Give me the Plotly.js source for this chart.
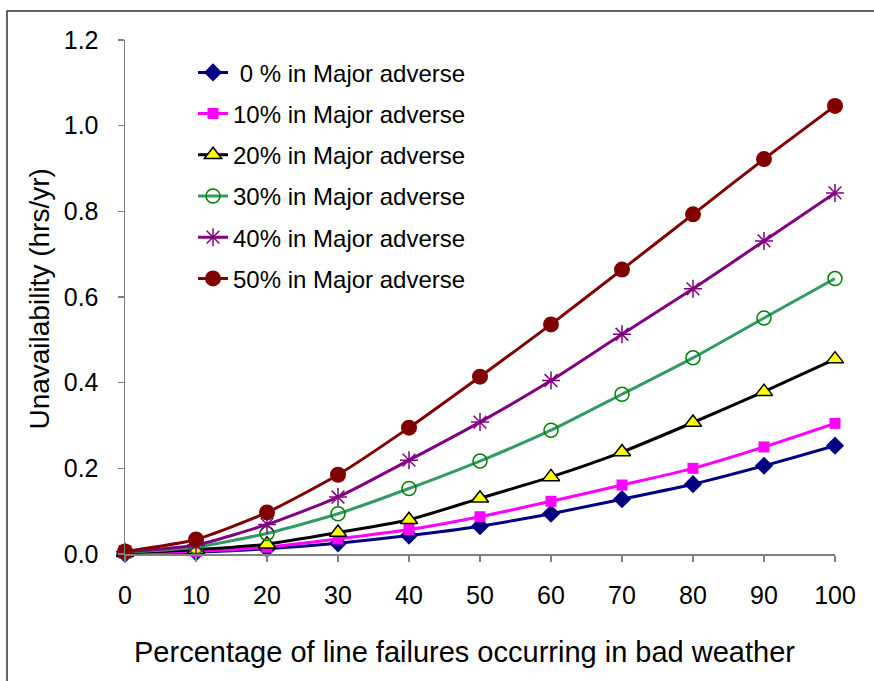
<!DOCTYPE html>
<html>
<head>
<meta charset="utf-8">
<script src="https://cdn.plot.ly/plotly-3.0.1.min.js"></script>
<style>html,body{margin:0;padding:0;background:#fff;}#chart{width:874px;height:681px;}</style>
</head>
<body>
<div id="chart"></div>
<script>
// Data
const xPct = [0, 10, 20, 30, 40, 50, 60, 70, 80, 90, 100];
const xTickLabels = ["0", "10", "20", "30", "40", "50", "60", "70", "80", "90", "100"];
const yTickVals = [0, 0.2, 0.4, 0.6, 0.8, 1.0, 1.2];
const yTickLabels = ["0.0", "0.2", "0.4", "0.6", "0.8", "1.0", "1.2"];
const seriesNames = ["\u00a00 % in Major adverse", "10% in Major adverse", "20% in Major adverse",
                     "30% in Major adverse", "40% in Major adverse", "50% in Major adverse"];
const s0  = [0.000, 0.004, 0.012, 0.025, 0.043, 0.065, 0.094, 0.128, 0.163, 0.206, 0.253];
const s10 = [0.002, 0.006, 0.016, 0.035, 0.057, 0.087, 0.123, 0.161, 0.200, 0.250, 0.305];
const s20 = [0.003, 0.010, 0.023, 0.050, 0.080, 0.130, 0.180, 0.238, 0.307, 0.379, 0.455];
const s30 = [0.004, 0.016, 0.048, 0.094, 0.153, 0.217, 0.289, 0.373, 0.458, 0.551, 0.643];
const s40 = [0.005, 0.021, 0.069, 0.133, 0.219, 0.308, 0.405, 0.513, 0.619, 0.731, 0.843];
const s50 = [0.006, 0.034, 0.097, 0.185, 0.295, 0.414, 0.536, 0.664, 0.793, 0.922, 1.046];

const styles = [
  {line: '#000080', symbol: 'diamond', mcolor: '#000080', mline: '#000080', size: 14, lw: 0},
  {line: '#FF00FF', symbol: 'square', mcolor: '#FF00FF', mline: '#FF00FF', size: 11, lw: 0},
  {line: '#000000', symbol: 'triangle-up', mcolor: '#FFFF00', mline: '#000000', size: 15, lw: 1.5},
  {line: '#339966', symbol: 'circle-open', mcolor: '#008000', mline: '#008000', size: 14, lw: 1.5},
  {line: '#800080', symbol: 'asterisk-open', mcolor: '#800080', mline: '#800080', size: 15, lw: 1.5},
  {line: '#800000', symbol: 'circle', mcolor: '#800000', mline: '#800000', size: 16, lw: 0}
];
const allSeries = [s0, s10, s20, s30, s40, s50];

const traces = allSeries.map((ys, i) => ({
  x: xPct, y: ys, name: seriesNames[i], type: 'scatter', mode: 'lines+markers',
  legendgroup: 'g' + i,
  line: {color: styles[i].line, width: 3, shape: 'spline', smoothing: 0.6},
  marker: {symbol: styles[i].symbol, size: styles[i].size, color: styles[i].mcolor,
           line: {color: styles[i].mline, width: styles[i].lw}},
  cliponaxis: false
}));

const font = 'Liberation Sans, Arial, sans-serif';
const layout = {
  width: 874, height: 681,
  margin: {l: 125, r: 39, t: 40, b: 127},
  paper_bgcolor: '#ffffff', plot_bgcolor: '#ffffff',
  showlegend: true,
  legend: {x: 0.0958, y: 0.98, xanchor: 'left', yanchor: 'top',
           font: {family: font, size: 24, color: '#000'},
           bgcolor: 'rgba(0,0,0,0)', traceorder: 'grouped', tracegroupgap: 7,
           itemsizing: 'trace'},
  xaxis: {range: [0, 100], tickvals: xPct, ticktext: xTickLabels,
          showgrid: false, zeroline: false, showline: true, linecolor: '#808080', linewidth: 1.5,
          ticks: 'outside', ticklen: 6, tickcolor: '#808080', tickwidth: 1.5,
          ticklabelstandoff: 12,
          tickfont: {family: font, size: 25, color: '#000'}},
  yaxis: {range: [0, 1.2], tickvals: yTickVals, ticktext: yTickLabels,
          showgrid: false, zeroline: false, showline: true, linecolor: '#808080', linewidth: 1.5,
          ticks: 'outside', ticklen: 6, tickcolor: '#808080', tickwidth: 1.5,
          ticklabelstandoff: 14,
          tickfont: {family: font, size: 25, color: '#000'}},
  annotations: [
    {text: 'Unavailability (hrs/yr)', xref: 'paper', yref: 'paper', x: -0.1197, y: 0.495,
     textangle: -90, showarrow: false, xanchor: 'center', yanchor: 'middle',
     font: {family: font, size: 28, color: '#000'}},
    {text: 'Percentage of line failures occurring in bad weather', xref: 'paper', yref: 'paper',
     x: 0.4775, y: -0.1907, showarrow: false, xanchor: 'center', yanchor: 'middle',
     font: {family: font, size: 29, color: '#000'}}
  ],
  shapes: [
    {type: 'rect', xref: 'paper', yref: 'paper', x0: -0.1662, y0: -0.6, x1: 1.2, y1: 1.0564,
     line: {color: '#333333', width: 1.5}, fillcolor: 'rgba(0,0,0,0)', layer: 'below'}
  ]
};

Plotly.newPlot('chart', traces, layout, {displayModeBar: false, staticPlot: true});
</script>
</body>
</html>
